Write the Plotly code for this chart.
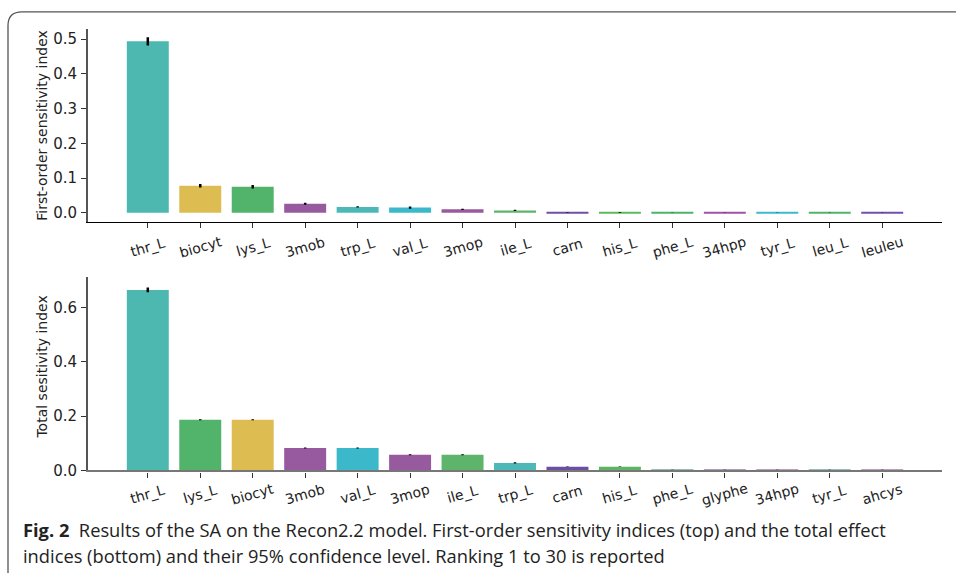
import plotly.graph_objects as go

# First-order indices (top panel)
first_names = ["thr_L", "biocyt", "lys_L", "3mob", "trp_L", "val_L", "3mop", "ile_L",
               "carn", "his_L", "phe_L", "34hpp", "tyr_L", "leu_L", "leuleu"]
first_vals = [0.494, 0.078, 0.075, 0.026, 0.017, 0.015, 0.010, 0.007,
              0.0015, 0.0012, 0.0008, 0.0008, 0.0007, 0.0006, 0.0006]
first_err = [0.012, 0.005, 0.005, 0.003, 0.002, 0.003, 0.002, 0.002,
             0.0008, 0.0008, 0.0004, 0.0004, 0.0003, 0.0003, 0.0003]
first_colors = ["#4db8b0", "#ddbd52", "#52b36b", "#985a9e", "#4db8b8", "#3cb8cb", "#985a9e",
                "#5db46a", "#6e4fa6", "#5cba5e", "#4cb36a", "#9d55a6", "#3cbacc", "#52b36b", "#7050ab"]

# Total-effect indices (bottom panel)
total_names = ["thr_L", "lys_L", "biocyt", "3mob", "val_L", "3mop", "ile_L", "trp_L",
               "carn", "his_L", "phe_L", "glyphe", "34hpp", "tyr_L", "ahcys"]
total_vals = [0.665, 0.187, 0.187, 0.083, 0.083, 0.058, 0.058, 0.028,
              0.0135, 0.0135, 0.003, 0.002, 0.002, 0.002, 0.002]
total_err = [0.009, 0.002, 0.002, 0.002, 0.002, 0.002, 0.002, 0.002,
             0.001, 0.001, 0.0005, 0.0004, 0.0004, 0.0004, 0.0004]
total_colors = ["#4db8b0", "#52b36b", "#ddbd52", "#985a9e", "#3cb8cb", "#985a9e", "#5db46a",
                "#4db8b8", "#6a4fa3", "#5cb562", "#2f7f5f", "#6a3f7a", "#7a3f80", "#2f7f7f", "#7a3f80"]

W, H = 956, 573
def px_x(v):
    return v / W
def px_y(v):
    # vertical pixel position (from top) to paper fraction, stretched slightly below the frame top
    v = 12 + (v - 12) / 0.985
    return 1 - v / H

fig = go.Figure()
fig.add_trace(go.Bar(x=first_names, y=first_vals, marker=dict(color=first_colors, line=dict(width=0)),
                     width=0.8, error_y=dict(type="data", array=first_err, color="black",
                                             thickness=2.5, width=0),
                     xaxis="x", yaxis="y", showlegend=False))
fig.add_trace(go.Bar(x=total_names, y=total_vals, marker=dict(color=total_colors, line=dict(width=0)),
                     width=0.8, error_y=dict(type="data", array=total_err, color="black",
                                             thickness=2.5, width=0),
                     xaxis="x2", yaxis="y2", showlegend=False))

family = "DejaVu Sans, Verdana, sans-serif"
ytick_font = dict(family=family, size=15, color="#222")
xtick_font = dict(family=family, size=14, color="#222")
title_font = dict(family=family, size=14, color="#222")
xr = [-1.14, 15.14]
common_x = dict(range=xr, showticklabels=False, ticks="outside", ticklen=5, tickwidth=1.2,
                tickcolor="#333", showgrid=False, zeroline=False, showline=True, type="category")
common_y = dict(ticks="outside", ticklen=5, tickwidth=1.2, tickcolor="#333", showgrid=False,
                zeroline=False, showline=True, linecolor="#555", linewidth=1.8,
                tickfont=ytick_font, tickformat=".1f", ticklabelstandoff=1)

fig.update_layout(
    width=W, height=H, margin=dict(l=0, r=0, t=0, b=0),
    paper_bgcolor="white", plot_bgcolor="white", bargap=0.2,
    xaxis=dict(domain=[px_x(88), px_x(942)], anchor="y", linecolor="black", linewidth=1.4,
               **common_x),
    yaxis=dict(domain=[px_y(222), px_y(29)], anchor="x", range=[-0.0255, 0.53],
               tickvals=[0, 0.1, 0.2, 0.3, 0.4, 0.5], **common_y),
    xaxis2=dict(domain=[px_x(88), px_x(942)], anchor="y2", linecolor="#777", linewidth=2.3,
                **common_x),
    yaxis2=dict(domain=[px_y(471), px_y(277)], anchor="x2", range=[0, 0.714],
                tickvals=[0, 0.2, 0.4, 0.6], **common_y),
)

annotations = []
# Rotated category labels, centred under each tick
for name in first_names:
    annotations.append(dict(x=name, y=px_y(247), xref="x", yref="paper", text=name,
                            textangle=-16, showarrow=False, font=xtick_font,
                            xanchor="center", yanchor="middle"))
for name in total_names:
    annotations.append(dict(x=name, y=px_y(495), xref="x2", yref="paper", text=name,
                            textangle=-16, showarrow=False, font=xtick_font,
                            xanchor="center", yanchor="middle"))
# Axis titles
annotations.append(dict(x=px_x(42), y=px_y(126), xref="paper", yref="paper",
                        text="First-order sensitivity index", textangle=-90, showarrow=False,
                        font=title_font, xanchor="center", yanchor="middle"))
annotations.append(dict(x=px_x(42), y=px_y(368), xref="paper", yref="paper",
                        text="Total sesitivity index", textangle=-90, showarrow=False,
                        font=title_font, xanchor="center", yanchor="middle"))
# Caption
cap_font = dict(family="Open Sans", size=18.3, color="#222")
annotations.append(dict(x=px_x(21), y=px_y(530), xref="paper", yref="paper",
                        text="<b>Fig. 2</b>  Results of the SA on the Recon2.2 model. First-order "
                             "sensitivity indices (top) and the total effect",
                        showarrow=False, font=cap_font, xanchor="left", yanchor="middle"))
annotations.append(dict(x=px_x(21), y=px_y(556), xref="paper", yref="paper",
                        text="indices (bottom) and their 95% confidence level. Ranking 1 to 30 is reported",
                        showarrow=False, font=cap_font, xanchor="left", yanchor="middle"))
fig.update_layout(annotations=annotations)

# Rounded frame around the figure panel
x0, yt = px_x(8), px_y(12)
rx, ry = 14 / W, 14 / H
fig.add_shape(type="path", xref="paper", yref="paper",
              path=f"M {x0},-0.05 L {x0},{yt - ry} Q {x0},{yt} {x0 + rx},{yt} L 1.05,{yt}",
              line=dict(color="#555", width=1.3))

fig.write_html("out.html")
